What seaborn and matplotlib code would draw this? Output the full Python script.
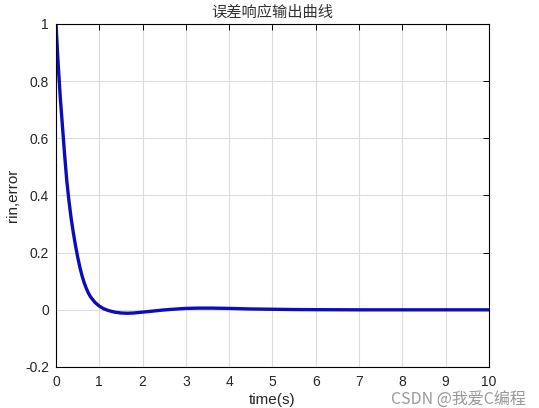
import pandas as pd
import matplotlib
matplotlib.use('Agg')
import matplotlib.pyplot as plt
import seaborn as sns

# values
t = [0, 0.05, 0.1, 0.15, 0.2, 0.25, 0.3, 0.35, 0.4, 0.45, 0.5, 0.55, 0.6, 0.65,
     0.7, 0.75, 0.8, 0.9, 1.0, 1.1, 1.2, 1.35, 1.5, 1.65, 1.8, 2.0, 2.2, 2.45,
     2.7, 3.0, 3.3, 3.6, 4.0, 4.5, 5.0, 5.5, 6.0, 7.0, 8.0, 9.0, 10.0]
err = [1.0, 0.86, 0.74, 0.64, 0.54, 0.45, 0.38, 0.32, 0.27, 0.225, 0.185, 0.15,
       0.12, 0.095, 0.075, 0.058, 0.045, 0.026, 0.013, 0.004, -0.002, -0.008,
       -0.011, -0.012, -0.011, -0.008, -0.005, -0.001, 0.002, 0.005, 0.006,
       0.006, 0.005, 0.003, 0.002, 0.001, 0.0005, 0.0, 0.0, 0.0, 0.0]
xticks = [0, 1, 2, 3, 4, 5, 6, 7, 8, 9, 10]
yticks = [-0.2, 0, 0.2, 0.4, 0.6, 0.8, 1]
ytick_labels = ['-0.2', '0', '0.2', '0.4', '0.6', '0.8', '1']

sns.set_style('white')
plt.rcParams['font.family'] = ['Liberation Sans', 'Noto Sans CJK SC', 'DejaVu Sans']

df = pd.DataFrame({'time': t, 'error': err})

fig = plt.figure(figsize=(5.39, 4.08), dpi=100)
ax = fig.add_axes([0.1039, 0.1005, 0.8033, 0.8407])
sns.lineplot(data=df, x='time', y='error', ax=ax, color='#0c0cbc', linewidth=2.4)

ax.set_xlim(0, 10)
ax.set_ylim(-0.2, 1)
ax.set_xticks(xticks)
ax.set_yticks(yticks)
ax.set_yticklabels(ytick_labels)
ax.grid(True, color='#dcdcdc', linewidth=0.8)
ax.set_axisbelow(True)
for s in ax.spines.values():
    s.set_color('black')
    s.set_linewidth(0.8)
ax.tick_params(direction='in', length=4, width=0.7, top=True, right=True,
               labelsize=10, colors='black', labelcolor='#262626')
ax.tick_params(axis='x', pad=6)
ax.tick_params(axis='y', pad=5)

ax.set_xlabel('time(s)', fontsize=11, color='#262626', labelpad=3)
ax.set_ylabel('rin,error', fontsize=11, color='#262626', labelpad=4)
ax.set_title('误差响应输出曲线', fontsize=11, color='#333333',
             family=['Noto Sans CJK SC', 'DejaVu Sans'], pad=5)

# watermark kept just under the tick labels
fig.text(0.975, 0.02, 'CSDN @我爱C编程', ha='right', va='center', fontsize=11.5,
         color='#888888', alpha=0.85, family=['Noto Sans CJK SC', 'DejaVu Sans'])

plt.savefig('out.png', dpi=100, facecolor='w')
plt.close()
